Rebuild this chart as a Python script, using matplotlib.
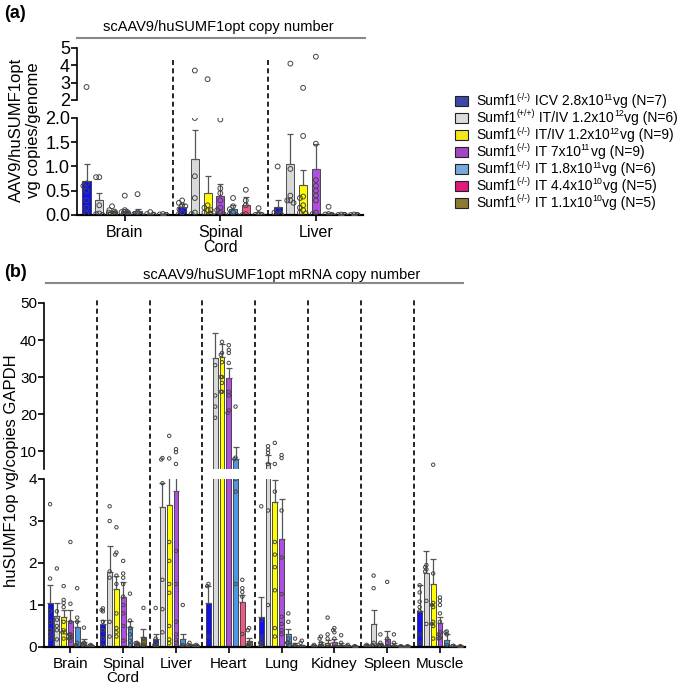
import numpy as np
import matplotlib.pyplot as plt
from matplotlib.patches import Rectangle
from matplotlib.lines import Line2D

plt.rcParams['font.family'] = ['Liberation Sans', 'DejaVu Sans']

# ---- series (legend pieces) ----
leg_genotype = ['(-/-)', '(+/+)', '(-/-)', '(-/-)', '(-/-)', '(-/-)', '(-/-)']
leg_dose = ['ICV 2.8x10', 'IT/IV 1.2x10', 'IT/IV 1.2x10', 'IT 7x10', 'IT 1.8x10',
            'IT 4.4x10', 'IT 1.1x10']
leg_exp = ['11', '12', '12', '11', '11', '10', '10']
leg_n = [7, 6, 9, 9, 6, 5, 5]
bar_colors = ['#1010f0', '#d9d9d9', '#ffff00', '#b04ee0', '#4f97e0', '#ef5a84', '#7a6a22']
legend_colors = ['#3d47a8', '#dcdcdc', '#f5e61a', '#a346c4', '#78a8de', '#e01a7c', '#8c7a34']

# ---- panel (a): vector genome copies ----
a_tissues = ['Brain', 'Spinal\nCord', 'Liver']
a_mean = [
    [0.70, 0.30, 0.06, 0.08, 0.08, 0.02, 0.01],
    [0.17, 1.15, 0.45, 0.40, 0.12, 0.21, 0.03],
    [0.16, 1.05, 0.62, 0.95, 0.03, 0.01, 0.01],
]
a_sem = [
    [0.36, 0.15, 0.02, 0.04, 0.05, 0.01, 0.005],
    [0.05, 0.60, 0.35, 0.23, 0.08, 0.16, 0.03],
    [0.15, 0.63, 0.31, 0.52, 0.02, 0.005, 0.005],
]
a_pts_brain = [
    [2.75, 0.65, 0.60, 0.50, 0.30, 0.15, 0.03],
    [0.78, 0.78, 0.20, 0.03, 0.02, 0.0],
    [0.18, 0.10, 0.07, 0.05, 0.04, 0.03, 0.02, 0.01, 0.0],
    [0.40, 0.10, 0.06, 0.05, 0.03, 0.02, 0.01, 0.0, 0.0],
    [0.43, 0.05, 0.02, 0.0, 0.0, 0.0],
    [0.06, 0.02, 0.01, 0.0, 0.0],
    [0.02, 0.01, 0.0, 0.0, 0.0],
]
a_pts_spinal = [
    [0.30, 0.25, 0.20, 0.18, 0.12, 0.05, 0.02],
    [3.70, 2.00, 0.80, 0.35, 0.05, 0.02],
    [3.20, 0.20, 0.15, 0.10, 0.10, 0.05, 0.03, 0.02, 0.0],
    [1.97, 0.55, 0.45, 0.30, 0.15, 0.10, 0.05, 0.02, 0.0],
    [0.35, 0.18, 0.12, 0.05, 0.02, 0.0],
    [0.52, 0.30, 0.20, 0.02, 0.0],
    [0.14, 0.02, 0.0, 0.0, 0.0],
]
a_pts_liver = [
    [1.00, 0.10, 0.05, 0.03, 0.0, 0.0, 0.0],
    [4.10, 0.95, 0.40, 0.30, 0.30, 0.25],
    [2.70, 1.63, 0.38, 0.35, 0.20, 0.15, 0.10, 0.05, 0.03],
    [4.50, 1.47, 0.72, 0.60, 0.50, 0.40, 0.30, 0.05, 0.02],
    [0.17, 0.02, 0.01, 0.0, 0.0, 0.0],
    [0.01, 0.0, 0.0, 0.0, 0.0],
    [0.01, 0.0, 0.0, 0.0, 0.0],
]
a_points = [a_pts_brain, a_pts_spinal, a_pts_liver]

# ---- panel (b): mRNA copies ----
b_tissues = ['Brain', 'Spinal\nCord', 'Liver', 'Heart', 'Lung', 'Kidney', 'Spleen', 'Muscle']
b_mean = [
    [1.05, 0.75, 0.72, 0.62, 0.47, 0.13, 0.03],
    [0.55, 1.78, 1.37, 1.18, 0.47, 0.07, 0.24],
    [0.20, 3.33, 3.37, 3.72, 0.18, 0.05, 0.03],
    [1.05, 35.2, 35.5, 29.7, 7.8, 1.07, 0.15],
    [0.72, 6.8, 3.45, 2.58, 0.32, 0.05, 0.03],
    [0.02, 0.08, 0.10, 0.12, 0.05, 0.02, 0.01],
    [0.03, 0.55, 0.06, 0.20, 0.05, 0.01, 0.01],
    [0.86, 1.77, 1.50, 0.58, 0.17, 0.02, 0.01],
]
b_sem = [
    [0.43, 0.30, 0.16, 0.26, 0.15, 0.07, 0.01],
    [0.10, 0.62, 0.33, 0.37, 0.16, 0.03, 0.18],
    [0.10, 0.57, 0.73, 0.80, 0.12, 0.03, 0.01],
    [0.40, 6.8, 3.5, 2.7, 3.2, 0.18, 0.07],
    [0.46, 2.2, 0.53, 0.94, 0.10, 0.05, 0.02],
    [0.01, 0.04, 0.07, 0.07, 0.04, 0.01, 0.005],
    [0.02, 0.32, 0.04, 0.18, 0.04, 0.005, 0.005],
    [0.61, 0.51, 0.60, 0.14, 0.13, 0.01, 0.005],
]
b_pts_brain = [
    [3.40, 1.63, 0.85, 0.60, 0.40, 0.30, 0.20],
    [1.87, 0.85, 0.65, 0.50, 0.40, 0.18],
    [1.45, 1.12, 1.05, 0.95, 0.60, 0.40, 0.35, 0.35, 0.20],
    [2.50, 1.03, 0.60, 0.30, 0.30, 0.25, 0.22, 0.20, 0.15],
    [1.40, 0.70, 0.60, 0.10, 0.05, 0.0],
    [0.46, 0.10, 0.05, 0.02, 0.0],
    [0.05, 0.03, 0.02, 0.01, 0.0],
]
b_pts_spinal = [
    [0.92, 0.88, 0.85, 0.60, 0.40, 0.20, 0.02],
    [3.35, 3.00, 1.80, 1.65, 0.60, 0.25],
    [2.85, 2.25, 2.20, 1.70, 1.50, 0.80, 0.45, 0.35, 0.25],
    [2.05, 1.75, 1.65, 1.50, 1.20, 1.00, 0.80, 0.50, 0.15],
    [1.27, 0.63, 0.45, 0.30, 0.15, 0.05],
    [0.10, 0.09, 0.08, 0.05, 0.03],
    [0.93, 0.20, 0.05, 0.02, 0.0],
]
b_pts_liver = [
    [0.93, 0.20, 0.10, 0.05, 0.05, 0.03, 0.02],
    [8.1, 7.7, 3.9, 1.6, 0.9, 0.35],
    [14.1, 8.0, 2.5, 2.05, 1.5, 1.29, 0.5, 0.18, 0.09],
    [10.5, 9.7, 6.5, 2.29, 1.5, 0.6, 0.3, 0.17, 0.1],
    [1.00, 0.05, 0.02, 0.0, 0.0, 0.0],
    [0.10, 0.05, 0.0, 0.0, 0.0],
    [0.05, 0.03, 0.02, 0.0, 0.0],
]
b_pts_heart = [
    [1.50, 1.45, 0.25],
    [33.2, 25.0, 22.0, 19.0],
    [39.5, 36.5, 36.0, 34.0, 30.0, 30.0, 28.4, 26.0, 26.0],
    [38.6, 37.3, 36.5, 33.8, 26.0, 25.0, 21.0, 20.3],
    [22.0, 8.2, 7.8, 4.0, 3.7, 1.5],
    [1.60, 1.40, 1.31, 1.20, 0.31],
    [0.45, 0.40, 0.10, 0.05, 0.0],
]
b_pts_lung = [
    [3.35, 0.65, 0.25, 0.15, 0.10, 0.05, 0.0],
    [11.3, 10.3, 9.5, 6.5, 3.25, 1.0],
    [12.2, 6.5, 3.7, 2.5, 2.2, 1.9, 1.35, 0.45, 0.25],
    [8.9, 8.1, 3.25, 2.13, 1.26, 0.72, 0.55, 0.4, 0.3],
    [0.80, 0.60, 0.20, 0.10, 0.10, 0.05],
    [0.20, 0.05, 0.02, 0.0, 0.0],
    [0.15, 0.10, 0.0, 0.0, 0.0],
]
b_pts_kidney = [
    [0.05, 0.02, 0.01, 0.0, 0.0, 0.0, 0.0],
    [0.25, 0.20, 0.10, 0.0, 0.0, 0.0],
    [0.70, 0.30, 0.20, 0.05, 0.0, 0.0, 0.0, 0.0, 0.0],
    [0.45, 0.40, 0.35, 0.20, 0.0, 0.0, 0.0, 0.0, 0.0],
    [0.28, 0.10, 0.0, 0.0, 0.0, 0.0],
    [0.05, 0.02, 0.0, 0.0, 0.0],
    [0.02, 0.0, 0.0, 0.0, 0.0],
]
b_pts_spleen = [
    [0.05, 0.03, 0.02, 0.0, 0.0, 0.0, 0.0],
    [1.70, 1.40, 0.10, 0.05, 0.02, 0.0],
    [0.30, 0.10, 0.05, 0.02, 0.0, 0.0, 0.0, 0.0, 0.0],
    [1.55, 0.20, 0.10, 0.0, 0.0, 0.0, 0.0, 0.0, 0.0],
    [0.30, 0.10, 0.0, 0.0, 0.0, 0.0],
    [0.02, 0.0, 0.0, 0.0, 0.0],
    [0.02, 0.0, 0.0, 0.0, 0.0],
]
b_pts_muscle = [
    [1.47, 1.30, 1.08, 0.95, 0.85, 0.30, 0.10],
    [1.95, 1.90, 1.85, 1.80, 1.10, 0.55],
    [6.3, 1.75, 1.05, 1.00, 0.95, 0.60, 0.55, 0.50, 0.20],
    [1.18, 1.10, 1.00, 0.80, 0.60, 0.35, 0.30, 0.22, 0.20],
    [0.37, 0.35, 0.30, 0.05, 0.0, 0.0],
    [0.03, 0.02, 0.0, 0.0, 0.0],
    [0.02, 0.0, 0.0, 0.0, 0.0],
]
b_points = [b_pts_brain, b_pts_spinal, b_pts_liver, b_pts_heart,
            b_pts_lung, b_pts_kidney, b_pts_spleen, b_pts_muscle]

W, H = 685, 685
fig = plt.figure(figsize=(6.85, 6.85), dpi=100)


def fax(left, top, right, bottom):
    return fig.add_axes([left / W, 1 - bottom / H, (right - left) / W, (bottom - top) / H])


def swarm(vals, ppx, ppy, diam):
    placed, offs = [], []
    for v in vals:
        for k in [0, -1, 1, -2, 2, -3, 3]:
            dx = k * diam * 0.6 / ppx
            hit = False
            for (px, pv) in placed:
                if np.hypot((px - dx) * ppx, (pv - v) * ppy) < diam * 0.9:
                    hit = True
                    break
            if not hit:
                break
        placed.append((dx, v))
        offs.append(dx)
    return offs


def draw(ax_lo, ax_hi, means, sems, points, G, width, ppx, ppy_lo, ppy_hi, split,
         msize, diam, maxoff):
    for g in range(len(means)):
        xs = g * G + np.arange(7)
        for ax in (ax_lo, ax_hi):
            ax.bar(xs, means[g], width, color=bar_colors, edgecolor='#333333',
                   linewidth=0.6, zorder=2)
            ax.errorbar(xs, means[g], yerr=[np.zeros(7), sems[g]], fmt='none',
                        ecolor='#555555', elinewidth=0.9, capsize=2, capthick=0.9,
                        zorder=3)
        for i in range(7):
            vals = sorted(points[g][i], reverse=True)
            for ax, sub, ppy in ((ax_lo, [v for v in vals if v <= split], ppy_lo),
                                 (ax_hi, [v for v in vals if v > split], ppy_hi)):
                if not sub:
                    continue
                offs = np.clip(swarm(sub, ppx, ppy, diam), -maxoff, maxoff)
                ax.scatter(xs[i] + offs, sub, s=msize, facecolor='none',
                           edgecolor='#444444', linewidth=0.7, zorder=4)


def style(ax_lo, ax_hi, centers, names, xlim, tick_fs, lab_fs):
    for ax in (ax_lo, ax_hi):
        ax.set_xlim(*xlim)
        ax.spines['top'].set_visible(False)
        ax.spines['right'].set_visible(False)
        ax.spines['left'].set_linewidth(1.2)
        ax.tick_params(axis='y', labelsize=tick_fs, length=4, width=1.2, pad=1)
    ax_hi.spines['bottom'].set_visible(False)
    ax_hi.set_xticks([])
    ax_lo.spines['bottom'].set_linewidth(1.6)
    ax_lo.set_xticks(centers)
    ax_lo.set_xticklabels(names, fontsize=lab_fs, linespacing=1.0)
    ax_lo.tick_params(axis='x', length=4, width=1.2, pad=3)


# ---------------- panel (a) ----------------
Ga = 7.5
axa_hi = fax(77, 48, 363, 100)
axa_lo = fax(77, 118, 363, 215)
draw(axa_lo, axa_hi, a_mean, a_sem, a_points, Ga, 0.64, 12.74, 48.5, 17.3, 2.0,
     12, 4.4, 0.25)
style(axa_lo, axa_hi, [g * Ga + 3 for g in range(3)], a_tissues, (-0.75, 21.7), 13, 11.5)
axa_lo.set_ylim(0, 2)
axa_lo.set_yticks([0, 0.5, 1.0, 1.5, 2.0])
axa_lo.set_yticklabels(['0.0', '0.5', '1.0', '1.5', '2.0'])
axa_hi.set_ylim(2, 5)
axa_hi.set_yticks([2, 3, 4, 5])
for g in range(1, 3):
    axa_lo.axvline(g * Ga - 0.75, ymin=0, ymax=1.62, clip_on=False, color='black',
                   linewidth=1.2, dashes=(3, 2), zorder=1)

fig.text(25 / W, 1 - 130 / H, 'AAV9/huSUMF1opt\nvg copies/genome', rotation=90,
         ha='center', va='center', fontsize=12, linespacing=1.15)
fig.text(218 / W, 1 - 27 / H, 'scAAV9/huSUMF1opt copy number', ha='center',
         va='center', fontsize=10.5)
fig.add_artist(Line2D([77 / W, 365 / W], [1 - 38 / H, 1 - 38 / H], color='#888888',
                      linewidth=1.5, transform=fig.transFigure))
fig.text(4 / W, 1 - 13 / H, '(a)', fontsize=13, fontweight='bold', ha='left', va='center')

# ---------------- panel (b) ----------------
Gb = 7.8
axb_hi = fax(44, 303, 465, 469)
axb_lo = fax(44, 479, 465, 647)
draw(axb_lo, axb_hi, b_mean, b_sem, b_points, Gb, 0.72, 6.77, 42.0, 3.7, 4.0,
     6, 3.2, 0.18)
style(axb_lo, axb_hi, [g * Gb + 3 for g in range(8)], b_tissues, (-0.9, 61.3), 11, 11)
axb_lo.set_ylim(0, 4)
axb_lo.set_yticks([0, 1, 2, 3, 4])
axb_hi.set_ylim(5.14, 50)
axb_hi.set_yticks([10, 20, 30, 40, 50])
for g in range(1, 8):
    axb_lo.axvline(g * Gb - 0.9, ymin=0, ymax=2.07, clip_on=False, color='black',
                   linewidth=1.2, dashes=(3, 2), zorder=1)

fig.text(12 / W, 1 - 471 / H, 'huSUMF1op vg/copies GAPDH', rotation=90, ha='center',
         va='center', fontsize=12)
fig.text(282 / W, 1 - 275 / H, 'scAAV9/huSUMF1opt mRNA copy number', ha='center',
         va='center', fontsize=10.5)
fig.add_artist(Line2D([46 / W, 463 / W], [1 - 283 / H, 1 - 283 / H], color='#888888',
                      linewidth=1.5, transform=fig.transFigure))
fig.text(4 / W, 1 - 272 / H, '(b)', fontsize=13, fontweight='bold', ha='left', va='center')

# ---------------- legend (drawn piece by piece for small superscripts) ----------------
renderer = fig.canvas.get_renderer()
row_y0, row_dy = 101, 17
for k in range(7):
    yc = row_y0 + k * row_dy
    fig.add_artist(Rectangle((455 / W, 1 - (yc + 4.5) / H), 13 / W, 9 / H,
                             facecolor=legend_colors[k], edgecolor='#222222',
                             linewidth=0.8, transform=fig.transFigure))
    pieces = [('Sumf1', False), (leg_genotype[k], True), (' ' + leg_dose[k], False),
              (leg_exp[k], True), ('vg (N=%d)' % leg_n[k], False)]
    x = 476
    for txt, sup in pieces:
        t = fig.text(x / W, 1 - (yc - (4.0 if sup else 0)) / H, txt,
                     fontsize=6.3 if sup else 10, ha='left', va='center')
        x += t.get_window_extent(renderer).width + (0.5 if sup else 0)

fig.savefig('out.png', dpi=100)
